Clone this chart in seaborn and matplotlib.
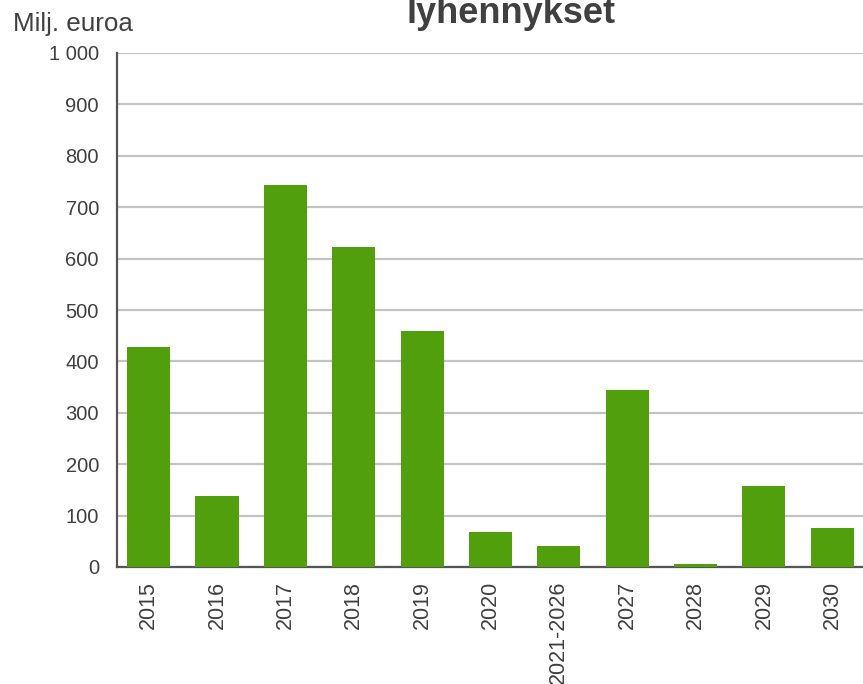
import matplotlib
matplotlib.use("Agg")
import matplotlib.pyplot as plt
import seaborn as sns
import pandas as pd
import numpy as np

categories = ["2015", "2016", "2017", "2018", "2019", "2020", "2021-2026", "2027", "2028", "2029", "2030"]
values = [428, 138, 743, 622, 459, 68, 41, 344, 5, 158, 76]
yticks = [0, 100, 200, 300, 400, 500, 600, 700, 800, 900, 1000]
ytick_labels = ["0", "100", "200", "300", "400", "500", "600", "700", "800", "900", "1 000"]

sns.set_theme(style="white")
plt.rcParams['font.family'] = ['Liberation Sans', 'DejaVu Sans']

df = pd.DataFrame({"cat": categories, "val": values})

fig = plt.figure(figsize=(8.63, 6.84), dpi=100)
ax = fig.add_axes([117/863, 117/684, 752/863, 514/684])

sns.barplot(data=df, x="cat", y="val", color="#529f0d", width=0.63, saturation=1,
            linewidth=0, edgecolor="none", ax=ax, zorder=3)

off = -0.037
ax.set_xlim(-0.5 - off, len(categories) - 0.5 - off)
ax.set_ylim(0, 1000)
ax.set_yticks(yticks)
ax.set_yticklabels(ytick_labels)
ax.yaxis.grid(True, color="#c3c3c3", linewidth=1.6, zorder=0)
ax.xaxis.grid(False)
ax.set_axisbelow(True)

ax.set_xlabel("")
ax.set_ylabel("")

for s in ["top", "right"]:
    ax.spines[s].set_visible(False)
for s in ["left", "bottom"]:
    ax.spines[s].set_color("#555555")
    ax.spines[s].set_linewidth(1.6)

ax.tick_params(axis="x", which="major", length=0, labelrotation=90, labelsize=15.5, labelcolor="#404040", pad=10)
ax.set_xticks(np.arange(-0.5 - off, len(categories), 1.0), minor=True)
ax.tick_params(axis="x", which="minor", length=7, width=1.5, color="#555555", direction="out")
ax.tick_params(axis="y", which="major", length=6, width=1.5, color="#555555", direction="out",
               labelsize=14.5, labelcolor="#404040", pad=7)

fig.text(13/863, 1 - 31/684, "Milj. euroa", fontsize=18.7, color="#404040", ha="left", va="baseline")
fig.text(511/863, 1 - 23/684, "lyhennykset", fontsize=26, fontweight="bold", color="#404040", ha="center", va="baseline")

fig.savefig("out.png", dpi=100)
